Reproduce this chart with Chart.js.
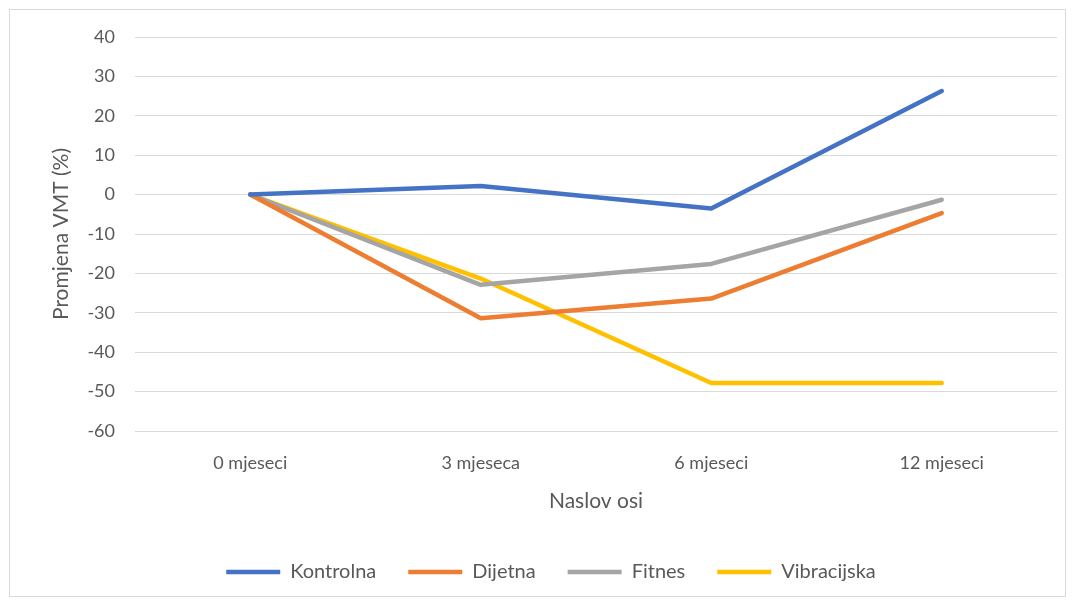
<!DOCTYPE html>
<html>
<head>
<meta charset="utf-8">
<script src="https://cdn.jsdelivr.net/npm/chart.js@4"></script>
<style>
  html, body { margin: 0; padding: 0; background: #fff; }
  #wrap { width: 1075px; height: 606px; position: relative; }
</style>
</head>
<body>
<div id="wrap"><canvas id="vmtChart"></canvas></div>
<script>
// chart values
const categories = ["0 mjeseci", "3 mjeseca", "6 mjeseci", "12 mjeseci"];
const kontrolna = [0, 2.2, -3.5, 26.3];
const dijetna = [0, -31.4, -26.4, -4.7];
const fitnes = [0, -22.9, -17.6, -1.3];
const vibracijska = [0, -21.3, -47.8, -47.8];
const yTicks = { min: -60, max: 40, step: 10 };

const textColor = "#595959";
const gridColor = "#d9d9d9";
const fontFamily = "Lato, 'Open Sans', sans-serif";

// white background + light chart-area frame like Excel
const frame = {
  id: "frame",
  beforeDraw(chart) {
    const c = chart.ctx;
    c.save();
    c.fillStyle = "#fff";
    c.fillRect(0, 0, chart.width, chart.height);
    c.strokeStyle = gridColor;
    c.lineWidth = 1;
    c.strokeRect(9.5, 9.5, chart.width - 19, chart.height - 19);
    c.restore();
  }
};

function series(label, data, color) {
  return {
    label: label,
    data: data,
    borderColor: color,
    backgroundColor: color,
    borderWidth: 4.5,
    borderCapStyle: "round",
    borderJoinStyle: "round",
    pointRadius: 0,
    pointHoverRadius: 0,
    tension: 0,
    fill: false
  };
}

document.addEventListener("DOMContentLoaded", () => {
  const ctx = document.getElementById("vmtChart").getContext("2d");
  new Chart(ctx, {
    type: "line",
    data: {
      labels: categories,
      datasets: [
        series("Kontrolna", kontrolna, "#4472C4"),
        series("Dijetna", dijetna, "#ED7D31"),
        series("Fitnes", fitnes, "#A5A5A5"),
        series("Vibracijska", vibracijska, "#FFC000")
      ]
    },
    options: {
      responsive: true,
      maintainAspectRatio: false,
      animation: false,
      layout: { padding: { left: 45, right: 18, top: 37, bottom: 14 } },
      plugins: {
        tooltip: { enabled: false },
        legend: {
          position: "bottom",
          labels: {
            usePointStyle: true,
            pointStyle: "line",
            pointStyleWidth: 54,
            color: textColor,
            font: { family: fontFamily, size: 20 },
            padding: 32
          }
        }
      },
      scales: {
        x: {
          offset: true,
          grid: { display: false, drawTicks: false },
          border: { display: true, color: gridColor, width: 1 },
          ticks: { color: textColor, font: { family: fontFamily, size: 18 }, padding: 21 },
          title: {
            display: true,
            text: "Naslov osi",
            color: textColor,
            font: { family: fontFamily, size: 21 },
            padding: { top: 4, bottom: 16 }
          },
          afterFit: (scale) => { scale.height = 99; }
        },
        y: {
          min: yTicks.min,
          max: yTicks.max,
          grid: { color: gridColor, lineWidth: 1, drawTicks: false },
          border: { display: false },
          ticks: {
            stepSize: yTicks.step,
            color: textColor,
            font: { family: fontFamily, size: 18 },
            padding: 20
          },
          title: {
            display: true,
            text: "Promjena VMT (%)",
            color: textColor,
            font: { family: fontFamily, size: 21 }
          },
          afterFit: (scale) => { scale.width = 90; }
        }
      }
    },
    plugins: [frame]
  });
});
</script>
</body>
</html>
